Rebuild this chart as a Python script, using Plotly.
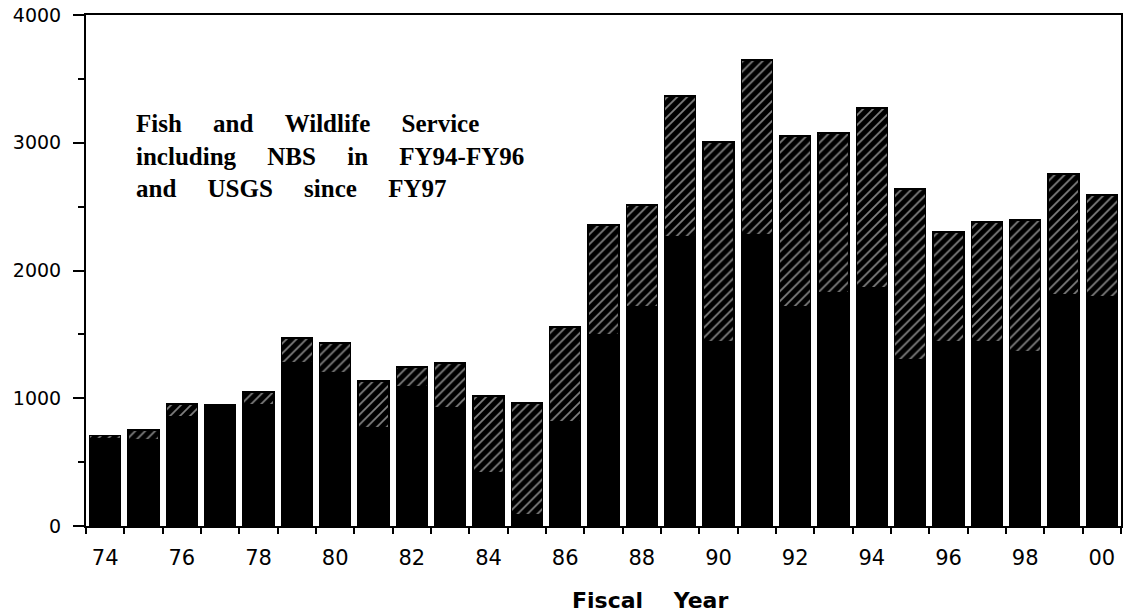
import plotly.graph_objects as go

years = ["74","75","76","77","78","79","80","81","82","83","84","85","86","87",
         "88","89","90","91","92","93","94","95","96","97","98","99","00"]
totals = [710, 751, 955, 947, 1049, 1470, 1432, 1135, 1245, 1276, 1018, 963, 1558, 2356,
          2513, 3366, 3006, 3648, 3053, 3076, 3272, 2638, 2301, 2380, 2395, 2755, 2591]
solid = [680, 673, 853, 940, 947, 1276, 1198, 767, 1088, 924, 415, 90, 814, 1495,
         1714, 2262, 1440, 2278, 1714, 1824, 1863, 1299, 1440, 1440, 1362, 1808, 1793]
hatched = [t - s for t, s in zip(totals, solid)]
y_ticks = [0, 1000, 2000, 3000, 4000]
y_minor = [500, 1500, 2500, 3500]
label_years = years[::2]

xpos = list(range(len(years)))

fig = go.Figure()
fig.add_trace(go.Bar(x=xpos, y=solid, marker=dict(color="black", line=dict(color="black", width=1)),
                     showlegend=False))
fig.add_trace(go.Bar(x=xpos, y=hatched,
                     marker=dict(color="black", line=dict(color="black", width=1.5),
                                 pattern=dict(shape="/", fgcolor="white", bgcolor="black",
                                              size=7, solidity=0.25, fillmode="overlay")),
                     showlegend=False))

sp = "\u00a0" * 5
lines = ["Fish and Wildlife Service", "including NBS in FY94-FY96", "and USGS since FY97"]
fig.add_annotation(x=0.046, y=0.818, xref="paper", yref="paper", xanchor="left", yanchor="top",
                   showarrow=False, align="left",
                   text="<b>" + "<br>".join(l.replace(" ", sp) for l in lines) + "</b>",
                   font=dict(family="Liberation Serif", size=25, color="black"))

fig.add_annotation(x=0.545, y=-0.145, xref="paper", yref="paper", xanchor="center", yanchor="middle",
                   showarrow=False, text="<b>Fiscal\u00a0\u00a0\u00a0\u00a0Year</b>",
                   font=dict(family="DejaVu Sans", size=22, color="black"))

fig.update_layout(
    barmode="stack", bargap=0.19,
    width=1128, height=614,
    margin=dict(l=86, r=7, t=15, b=88),
    plot_bgcolor="white", paper_bgcolor="white",
    font=dict(family="DejaVu Sans", color="black"),
    xaxis=dict(range=[-0.5, len(years) - 0.5], automargin=False,
               tickmode="array", tickvals=xpos[::2], ticktext=label_years,
               ticks="", tickfont=dict(size=21), ticklabelstandoff=12,
               ticklabeloverflow="allow",
               showline=True, linecolor="black", linewidth=2, mirror=True,
               showgrid=False, zeroline=False,
               minor=dict(tickmode="array", tickvals=[i - 0.5 for i in range(len(years) + 1)],
                          ticks="outside", ticklen=6, tickcolor="black", tickwidth=2, showgrid=False)),
    yaxis=dict(range=[0, 4000], automargin=False, tickmode="array", tickvals=y_ticks,
               ticks="outside", ticklen=11, tickwidth=2, tickcolor="black",
               tickfont=dict(size=19), ticklabelstandoff=8,
               ticklabeloverflow="allow",
               showline=True, linecolor="black", linewidth=2, mirror=True,
               showgrid=False, zeroline=False,
               minor=dict(tickmode="array", tickvals=y_minor,
                          ticks="outside", ticklen=6, tickwidth=2, tickcolor="black", showgrid=False)),
)

fig.write_html("out.html", config={"displayModeBar": False},
               post_script="document.body.style.margin='0';")
